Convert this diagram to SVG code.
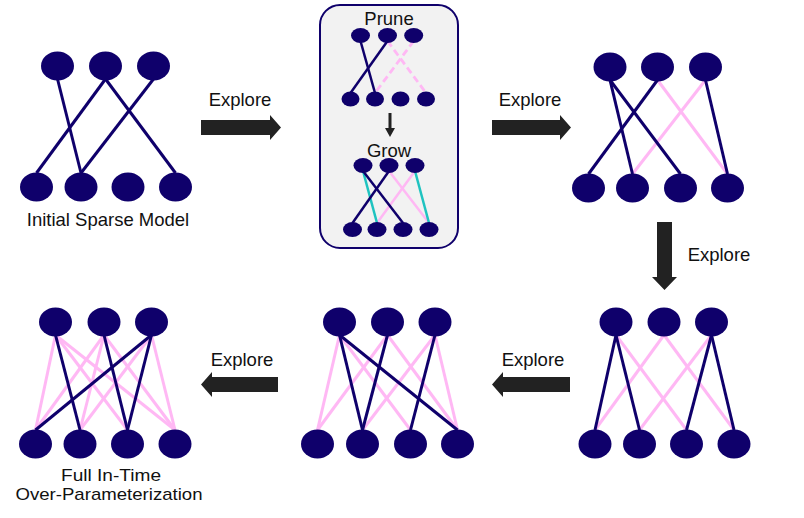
<svg xmlns="http://www.w3.org/2000/svg" width="804" height="518" viewBox="0 0 804 518">
<style>
.n{fill:#0f006b}
.e{stroke:#0f006b;stroke-width:3;fill:none}
.p{stroke:#ffb8f4;stroke-width:3;fill:none}
.se{stroke:#0f006b;stroke-width:2.5;fill:none}
.sp{stroke:#ffb8f4;stroke-width:2.5;fill:none}
.sd{stroke:#ffb8f4;stroke-width:2.8;fill:none;stroke-dasharray:7,4}
.st{stroke:#1fc3c0;stroke-width:2.5;fill:none}
.ar{fill:#222222}
text{font-family:"Liberation Sans",Arial,sans-serif;font-size:18.5px;fill:#111111;text-anchor:middle}
.sm{font-size:17px}
</style>
<rect width="804" height="518" fill="#ffffff"/>
<g id="connectors">
<g id="c1">
<line class="e" x1="57.5" y1="79" x2="81" y2="173"/>
<line class="e" x1="105.5" y1="79" x2="36.5" y2="173"/>
<line class="e" x1="105.5" y1="79" x2="175.5" y2="173"/>
<line class="e" x1="153.5" y1="79" x2="81" y2="173"/>
</g>
<g id="c3">
<line class="p" x1="657.5" y1="80" x2="727.5" y2="174"/>
<line class="p" x1="705.5" y1="80" x2="632.5" y2="174"/>
<line class="e" x1="610" y1="80" x2="632.5" y2="174"/>
<line class="e" x1="610" y1="80" x2="680.5" y2="174"/>
<line class="e" x1="657.5" y1="80" x2="588.5" y2="174"/>
<line class="e" x1="705.5" y1="80" x2="727.5" y2="174"/>
</g>
<g id="c4">
<line class="p" x1="616" y1="335" x2="686.5" y2="430"/>
<line class="p" x1="664" y1="335" x2="595" y2="430"/>
<line class="p" x1="664" y1="335" x2="734" y2="430"/>
<line class="p" x1="711.5" y1="335" x2="639.5" y2="430"/>
<line class="e" x1="616" y1="335" x2="595" y2="430"/>
<line class="e" x1="616" y1="335" x2="639.5" y2="430"/>
<line class="e" x1="711.5" y1="335" x2="686.5" y2="430"/>
<line class="e" x1="711.5" y1="335" x2="734" y2="430"/>
</g>
<g id="c5">
<line class="p" x1="339.5" y1="335" x2="317.5" y2="430"/>
<line class="p" x1="339.5" y1="335" x2="410.5" y2="430"/>
<line class="p" x1="387.5" y1="335" x2="317.5" y2="430"/>
<line class="p" x1="387.5" y1="335" x2="457.5" y2="430"/>
<line class="p" x1="435" y1="335" x2="362.5" y2="430"/>
<line class="p" x1="435" y1="335" x2="457.5" y2="430"/>
<line class="e" x1="339.5" y1="335" x2="362.5" y2="430"/>
<line class="e" x1="339.5" y1="335" x2="457.5" y2="430"/>
<line class="e" x1="387.5" y1="335" x2="362.5" y2="430"/>
<line class="e" x1="435" y1="335" x2="410.5" y2="430"/>
</g>
<g id="c6">
<line class="p" x1="55.5" y1="335" x2="35.5" y2="430"/>
<line class="p" x1="55.5" y1="335" x2="127.5" y2="430"/>
<line class="p" x1="55.5" y1="335" x2="175" y2="430"/>
<line class="p" x1="104" y1="335" x2="35.5" y2="430"/>
<line class="p" x1="104" y1="335" x2="80" y2="430"/>
<line class="p" x1="104" y1="335" x2="175" y2="430"/>
<line class="p" x1="151.5" y1="335" x2="80" y2="430"/>
<line class="p" x1="151.5" y1="335" x2="175" y2="430"/>
<line class="e" x1="55.5" y1="335" x2="80" y2="430"/>
<line class="e" x1="104" y1="335" x2="127.5" y2="430"/>
<line class="e" x1="151.5" y1="335" x2="35.5" y2="430"/>
<line class="e" x1="151.5" y1="335" x2="127.5" y2="430"/>
</g>
<g id="arrows">
<polygon class="ar" points="201,120 270,120 270,115 281,127.5 270,140 270,135 201,135"/>
<polygon class="ar" points="492,120 560,120 560,115 571,127.5 560,140 560,135 492,135"/>
<polygon class="ar" points="657,222 672,222 672,277 677,277 664.5,290 652,277 657,277"/>
<polygon class="ar" points="278,377 212,377 212,372 201,384.5 212,397 212,392 278,392"/>
<polygon class="ar" points="570,377 503,377 503,372 492,384.5 503,397 503,392 570,392"/>
</g>
</g>
<g id="box">
<rect x="320" y="5" width="138" height="243" rx="20" ry="20" fill="#f2f2f2" stroke="#0f006b" stroke-width="2"/>
</g>
<g id="connectors-mid">
<line class="sd" x1="387.5" y1="41" x2="426" y2="93"/>
<line class="sd" x1="413.7" y1="41" x2="375" y2="93"/>
<line class="se" x1="360.5" y1="41" x2="375" y2="93"/>
<line class="se" x1="387.5" y1="41" x2="350.5" y2="93"/>
<line class="sp" x1="389" y1="171" x2="429" y2="223"/>
<line class="sp" x1="415" y1="171" x2="377" y2="223"/>
<line class="st" x1="363" y1="171" x2="377" y2="223"/>
<line class="st" x1="415" y1="171" x2="429" y2="223"/>
<line class="se" x1="363" y1="171" x2="403" y2="223"/>
<line class="se" x1="389" y1="171" x2="352.5" y2="223"/>
<polygon class="ar" points="388.5,113 391.5,113 391.5,128 395,128 390,137 385,128 388.5,128"/>
</g>
<g id="panel1">
<ellipse class="n" cx="57.5" cy="66" rx="16.5" ry="14.5"/>
<ellipse class="n" cx="105.5" cy="66" rx="16.5" ry="14.5"/>
<ellipse class="n" cx="153.5" cy="66" rx="16.5" ry="14.5"/>
<ellipse class="n" cx="36.5" cy="187" rx="16.5" ry="14.5"/>
<ellipse class="n" cx="81" cy="187" rx="16.5" ry="14.5"/>
<ellipse class="n" cx="128" cy="187" rx="16.5" ry="14.5"/>
<ellipse class="n" cx="175.5" cy="187" rx="16.5" ry="14.5"/>
<text x="108" y="226">Initial Sparse Model</text>
</g>
<g id="panel2">
<text x="389" y="25">Prune</text>
<ellipse class="n" cx="360.5" cy="35.5" rx="9.5" ry="7.5"/>
<ellipse class="n" cx="387.5" cy="35.5" rx="9.5" ry="7.5"/>
<ellipse class="n" cx="413.7" cy="35.5" rx="9.5" ry="7.5"/>
<ellipse class="n" cx="350.5" cy="99" rx="9" ry="7.5"/>
<ellipse class="n" cx="375" cy="99" rx="9" ry="7.5"/>
<ellipse class="n" cx="400.5" cy="99" rx="9" ry="7.5"/>
<ellipse class="n" cx="426" cy="99" rx="9" ry="7.5"/>
<text x="389" y="157">Grow</text>
<ellipse class="n" cx="363" cy="165.5" rx="9.5" ry="7.5"/>
<ellipse class="n" cx="389" cy="165.5" rx="9.5" ry="7.5"/>
<ellipse class="n" cx="415" cy="165.5" rx="9.5" ry="7.5"/>
<ellipse class="n" cx="352.5" cy="229.5" rx="9.5" ry="7.5"/>
<ellipse class="n" cx="377" cy="229.5" rx="9.5" ry="7.5"/>
<ellipse class="n" cx="403" cy="229.5" rx="9.5" ry="7.5"/>
<ellipse class="n" cx="429" cy="229.5" rx="9.5" ry="7.5"/>
</g>
<g id="panel3">
<ellipse class="n" cx="610" cy="67" rx="16.5" ry="14.5"/>
<ellipse class="n" cx="657.5" cy="67" rx="16.5" ry="14.5"/>
<ellipse class="n" cx="705.5" cy="67" rx="16.5" ry="14.5"/>
<ellipse class="n" cx="588.5" cy="188" rx="16.5" ry="14.5"/>
<ellipse class="n" cx="632.5" cy="188" rx="16.5" ry="14.5"/>
<ellipse class="n" cx="680.5" cy="188" rx="16.5" ry="14.5"/>
<ellipse class="n" cx="727.5" cy="188" rx="16.5" ry="14.5"/>
</g>
<g id="panel4">
<ellipse class="n" cx="616" cy="322" rx="16.5" ry="14.5"/>
<ellipse class="n" cx="664" cy="322" rx="16.5" ry="14.5"/>
<ellipse class="n" cx="711.5" cy="322" rx="16.5" ry="14.5"/>
<ellipse class="n" cx="595" cy="444" rx="16.5" ry="14.5"/>
<ellipse class="n" cx="639.5" cy="444" rx="16.5" ry="14.5"/>
<ellipse class="n" cx="686.5" cy="444" rx="16.5" ry="14.5"/>
<ellipse class="n" cx="734" cy="444" rx="16.5" ry="14.5"/>
</g>
<g id="panel5">
<ellipse class="n" cx="339.5" cy="322" rx="16.5" ry="14.5"/>
<ellipse class="n" cx="387.5" cy="322" rx="16.5" ry="14.5"/>
<ellipse class="n" cx="435" cy="322" rx="16.5" ry="14.5"/>
<ellipse class="n" cx="317.5" cy="444" rx="16.5" ry="14.5"/>
<ellipse class="n" cx="362.5" cy="444" rx="16.5" ry="14.5"/>
<ellipse class="n" cx="410.5" cy="444" rx="16.5" ry="14.5"/>
<ellipse class="n" cx="457.5" cy="444" rx="16.5" ry="14.5"/>
</g>
<g id="panel6">
<ellipse class="n" cx="55.5" cy="322" rx="16.5" ry="14.5"/>
<ellipse class="n" cx="104" cy="322" rx="16.5" ry="14.5"/>
<ellipse class="n" cx="151.5" cy="322" rx="16.5" ry="14.5"/>
<ellipse class="n" cx="35.5" cy="444" rx="16.5" ry="14.5"/>
<ellipse class="n" cx="80" cy="444" rx="16.5" ry="14.5"/>
<ellipse class="n" cx="127.5" cy="444" rx="16.5" ry="14.5"/>
<ellipse class="n" cx="175" cy="444" rx="16.5" ry="14.5"/>
<text class="sm" x="111" y="481" textLength="100" lengthAdjust="spacingAndGlyphs">Full In-Time</text>
<text class="sm" x="109" y="500" textLength="187" lengthAdjust="spacingAndGlyphs">Over-Parameterization</text>
</g>
<g id="labels">
<text x="240" y="106">Explore</text>
<text x="530" y="106">Explore</text>
<text x="719" y="261">Explore</text>
<text x="242" y="366">Explore</text>
<text x="533" y="366">Explore</text>
</g>
</svg>
